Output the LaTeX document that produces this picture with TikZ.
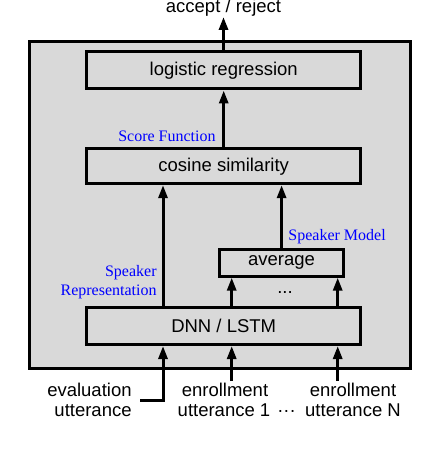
\documentclass[tikz,border=0pt]{standalone}
\usepackage{fontspec}
\setmainfont{Liberation Sans}
\newfontfamily\serifblue{Liberation Serif}
\usetikzlibrary{arrows.meta}
\definecolor{boxgray}{HTML}{D9D9D9}
\definecolor{lblblue}{RGB}{0,0,255}
\newcommand\szmain{\fontsize{9.25pt}{11pt}\selectfont}
\begin{document}
\begin{tikzpicture}[x=0.5pt,y=-0.5pt,
  box/.style={draw=black, line width=1.5pt, fill=boxgray, inner sep=0pt, font=\szmain},
  conn/.style={line width=1.5pt, -{Triangle[width=4.5pt,length=6.5pt]}},
  lbl/.style={text=lblblue, font=\serifblue\fontsize{8pt}{9pt}\selectfont, inner sep=0pt},
  txt/.style={font=\szmain, inner sep=0pt}]
\useasboundingbox (0,0) rectangle (446,454);
\node[box, minimum width=190.5pt, minimum height=163.25pt] (frame) at (220,205) {};
\node[box, minimum width=136.75pt, minimum height=18.5pt] (logistic) at (223.7,70.5) {logistic regression};
\node[box, minimum width=136.75pt, minimum height=17.35pt] (cosine) at (223.7,166.3) {cosine similarity};
\node[box, minimum width=136.75pt, minimum height=18.75pt] (dnn) at (223.7,325.8) {DNN / LSTM};
\node[box, minimum width=62.1pt, minimum height=13.35pt] (avg) at (281.6,262.8) {average};

\node[txt, anchor=base] (accept) at (223.5,12.5) {accept / reject};
\coordinate (accepttip) at (223.5,17);

\coordinate (xrep) at (163,0);
\coordinate (xe1) at (231.7,0);
\coordinate (xeN) at (337.7,0);

% connectors
\draw[conn] (logistic.north -| accepttip) -- (accepttip);
\draw[conn] (cosine.north) -- (logistic.south);
\draw[conn] (dnn.north -| xrep) -- (cosine.south -| xrep);
\draw[conn] (avg.north) -- (cosine.south -| avg.north);
\draw[conn] (dnn.north -| xe1) -- (avg.south -| xe1);
\draw[conn] (dnn.north -| xeN) -- (avg.south -| xeN);

\coordinate (evstart) at (140,400);
\coordinate (e1start) at (231.7,381);
\coordinate (eNstart) at (337.7,381);
\draw[conn] (evstart) -- (evstart -| xrep) -- (dnn.south -| xrep);
\draw[conn] (e1start) -- (dnn.south -| e1start);
\draw[conn] (eNstart) -- (dnn.south -| eNstart);

% labels
\node[lbl, anchor=base east] (score) at (216,141.3) {Score Function};
\node[lbl, anchor=base west] (model) at (288,240) {Speaker Model};
\node[lbl, anchor=base east] (rep1) at (157,276) {Speaker};
\node[lbl, anchor=base east] (rep2) at (157,295) {Representation};
\node[txt, anchor=base] (dots) at (285,293) {...};

\node[txt, anchor=base east] (ev1) at (132,396.7) {evaluation};
\node[txt, anchor=base east] (ev2) at (132,416.7) {utterance};
\node[txt, anchor=base] (en1a) at (225,396.7) {enrollment};
\node[txt, anchor=base] (en1b) at (224,416.7) {utterance 1};
\node[txt, anchor=base] (endots) at (286.5,416.7) {···};
\node[txt, anchor=base] (enNa) at (353,396.7) {enrollment};
\node[txt, anchor=base] (enNb) at (353,416.7) {utterance N};
\end{tikzpicture}
\end{document}
